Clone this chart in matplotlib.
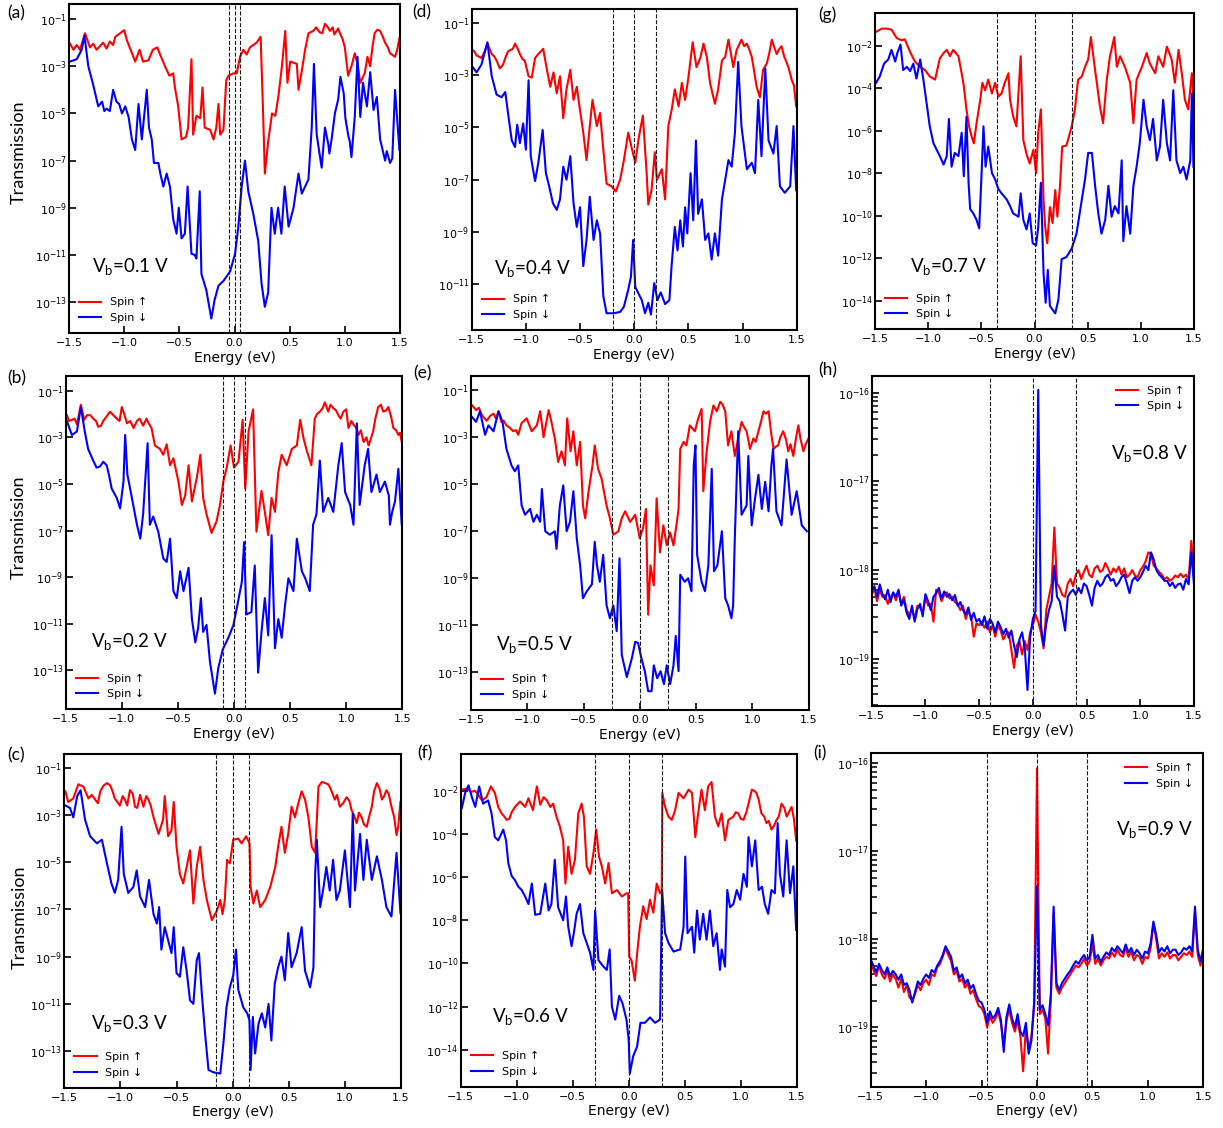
import numpy as np
import matplotlib
matplotlib.use("Agg")
import matplotlib.pyplot as plt
from matplotlib.ticker import NullLocator, NullFormatter, LogLocator

# ---------------------------------------------------------------------------
# Spin-resolved transmission spectra, T(E), for nine bias voltages.
# Each series is a list of (energy in eV, log10 T) pairs.
# ---------------------------------------------------------------------------
bias_voltages = [0.1, 0.2, 0.3, 0.4, 0.5, 0.6, 0.7, 0.8, 0.9]
panel_keys = ["a", "b", "c", "d", "e", "f", "g", "h", "i"]

a_up = [(-1.49,-2.05),(-1.46,-2.3),(-1.43,-2.1),(-1.40,-2.3),(-1.355,-1.6),(-1.31,-2.2),(-1.28,-2.05),(-1.25,-2.3),
        (-1.22,-2.15),(-1.19,-2.0),(-1.16,-2.25),(-1.13,-1.95),(-1.10,-2.1),(-1.08,-1.75),(-1.00,-1.47),(-0.975,-1.9),
        (-0.95,-2.2),(-0.925,-2.5),(-0.90,-2.8),(-0.86,-2.3),(-0.83,-2.8),(-0.78,-2.75),(-0.74,-2.3),(-0.70,-2.2),
        (-0.67,-2.55),(-0.63,-3.0),(-0.59,-3.4),(-0.555,-3.3),(-0.54,-3.9),(-0.51,-4.7),(-0.48,-6.1),(-0.44,-6.0),
        (-0.42,-5.6),(-0.39,-2.7),(-0.375,-5.9),(-0.345,-5.1),(-0.31,-5.2),(-0.29,-3.9),(-0.27,-5.6),(-0.22,-5.7),
        (-0.19,-6.1),(-0.165,-5.6),(-0.145,-4.6),(-0.13,-5.9),(-0.10,-5.7),(-0.075,-3.6),(-0.055,-3.4),(-0.01,-3.3),
        (0.02,-3.3),(0.05,-2.6),(0.08,-2.3),(0.11,-2.5),(0.14,-2.2),(0.17,-2.1),(0.20,-2.0),(0.237,-1.75),(0.26,-5.1),
        (0.275,-7.55),(0.305,-6.2),(0.34,-5.0),(0.37,-5.1),(0.40,-4.2),(0.43,-3.0),(0.46,-1.5),(0.48,-3.7),
        (0.505,-2.8),(0.565,-2.9),(0.58,-4.0),(0.61,-3.2),(0.64,-2.3),(0.67,-1.6),(0.715,-1.5),(0.74,-1.35),
        (0.77,-1.55),(0.795,-1.6),(0.82,-1.2),(0.84,-1.3),(0.865,-1.5),(0.89,-1.35),(0.905,-1.65),(0.925,-1.5),
        (0.94,-1.4),(0.955,-1.6),(0.98,-1.85),(1.00,-2.2),(1.03,-3.4),(1.06,-3.0),(1.09,-2.45),(1.115,-2.9),
        (1.14,-3.7),(1.18,-3.3),(1.205,-2.6),(1.23,-3.0),(1.25,-2.2),(1.27,-1.6),(1.295,-1.45),(1.32,-1.5),
        (1.34,-1.7),(1.365,-2.0),(1.39,-2.2),(1.41,-2.45),(1.455,-2.6),(1.475,-2.3),(1.495,-1.8)]
a_dn = [(-1.49,-2.8),(-1.43,-2.7),(-1.385,-2.3),(-1.36,-1.7),(-1.325,-3.0),(-1.28,-3.8),(-1.235,-4.7),(-1.20,-4.5),
        (-1.18,-4.9),(-1.16,-4.8),(-1.13,-4.9),(-1.10,-4.0),(-1.07,-4.5),(-1.045,-4.6),(-1.02,-5.0),(-0.99,-4.7),
        (-0.96,-5.15),(-0.93,-6.1),(-0.90,-6.55),(-0.87,-4.6),(-0.84,-6.1),(-0.795,-4.0),(-0.775,-5.6),(-0.75,-6.1),
        (-0.73,-7.1),(-0.69,-7.1),(-0.67,-7.6),(-0.645,-8.1),(-0.615,-7.55),(-0.585,-8.1),(-0.555,-9.5),
        (-0.525,-10.1),(-0.505,-9.0),(-0.48,-10.3),(-0.45,-10.1),(-0.425,-8.1),(-0.39,-10.95),(-0.36,-11.0),
        (-0.345,-11.15),(-0.315,-8.3),(-0.30,-11.8),(-0.255,-12.5),(-0.21,-13.7),(-0.18,-12.9),(-0.145,-12.3),
        (-0.10,-12.1),(-0.04,-11.7),(0.005,-10.95),(0.035,-9.8),(0.065,-8.1),(0.095,-7.0),(0.125,-8.3),(0.17,-9.25),
        (0.215,-10.4),(0.245,-12.2),(0.275,-13.2),(0.305,-12.6),(0.335,-9.0),(0.365,-10.1),(0.395,-9.0),
        (0.425,-10.1),(0.455,-8.1),(0.49,-9.8),(0.535,-9.0),(0.58,-7.55),(0.61,-8.4),(0.64,-8.1),(0.67,-7.8),
        (0.70,-5.6),(0.72,-2.9),(0.745,-5.9),(0.79,-7.3),(0.82,-5.6),(0.85,-6.3),(0.86,-6.7),(0.88,-6.1),(0.91,-5.0),
        (0.94,-4.4),(0.96,-3.45),(0.99,-4.15),(1.005,-5.2),(1.03,-5.9),(1.045,-6.2),(1.06,-6.85),(1.09,-5.15),
        (1.115,-2.6),(1.14,-5.15),(1.165,-3.7),(1.20,-4.7),(1.23,-3.25),(1.26,-4.85),(1.29,-4.3),(1.32,-6.1),
        (1.365,-7.0),(1.38,-6.6),(1.41,-7.1),(1.43,-6.9),(1.455,-4.0),(1.495,-6.55)]

b_up = [(-1.49,-2.05),(-1.47,-2.3),(-1.445,-2.25),(-1.42,-2.2),(-1.40,-2.45),(-1.365,-1.6),(-1.335,-2.25),
        (-1.31,-2.05),(-1.28,-2.05),(-1.255,-2.2),(-1.23,-2.3),(-1.21,-2.55),(-1.185,-2.5),(-1.165,-2.3),
        (-1.135,-2.1),(-1.105,-1.9),(-1.075,-2.05),(-1.045,-2.2),(-1.02,-2.3),(-1.00,-1.7),(-0.975,-2.05),
        (-0.955,-2.4),(-0.925,-2.3),(-0.895,-2.6),(-0.865,-2.3),(-0.84,-2.2),(-0.81,-2.5),(-0.78,-2.2),(-0.76,-2.4),
        (-0.735,-2.6),(-0.705,-3.35),(-0.66,-3.5),(-0.63,-3.75),(-0.60,-3.3),(-0.57,-4.2),(-0.54,-3.9),(-0.495,-4.9),
        (-0.465,-5.9),(-0.435,-5.5),(-0.405,-4.2),(-0.375,-5.75),(-0.33,-4.7),(-0.30,-3.75),(-0.275,-5.6),
        (-0.245,-6.3),(-0.20,-7.1),(-0.155,-6.6),(-0.125,-5.9),(-0.095,-4.9),(-0.065,-4.3),(-0.03,-3.35),(0.0,-4.3),
        (0.04,-4.05),(0.077,-2.25),(0.10,-5.2),(0.13,-2.75),(0.17,-1.8),(0.20,-7.05),(0.245,-5.3),(0.275,-6.2),
        (0.305,-7.2),(0.335,-5.6),(0.365,-6.2),(0.395,-4.5),(0.425,-3.75),(0.47,-4.2),(0.515,-3.5),(0.56,-3.35),
        (0.59,-2.25),(0.62,-3.05),(0.65,-3.6),(0.69,-4.2),(0.72,-2.2),(0.74,-2.0),(0.765,-1.9),(0.79,-1.75),
        (0.81,-1.5),(0.84,-1.9),(0.86,-1.6),(0.885,-1.75),(0.91,-1.85),(0.93,-2.05),(0.95,-2.2),(0.975,-1.9),
        (1.00,-1.8),(1.02,-2.6),(1.045,-2.3),(1.065,-2.45),(1.09,-2.6),(1.11,-2.9),(1.13,-2.7),(1.155,-3.2),
        (1.18,-3.0),(1.20,-3.35),(1.24,-2.75),(1.26,-2.2),(1.285,-1.7),(1.31,-1.6),(1.33,-1.9),(1.355,-1.85),
        (1.375,-1.7),(1.40,-2.1),(1.42,-2.6),(1.445,-2.7),(1.465,-2.9),(1.48,-2.8),(1.495,-3.2)]
b_dn = [(-1.49,-2.3),(-1.445,-2.9),(-1.40,-2.75),(-1.365,-1.7),(-1.33,-2.75),(-1.30,-3.5),(-1.255,-4.0),
        (-1.225,-4.3),(-1.195,-4.25),(-1.165,-4.05),(-1.135,-4.2),(-1.115,-4.6),(-1.09,-5.2),(-1.045,-5.6),
        (-1.015,-6.05),(-0.985,-4.9),(-0.97,-2.9),(-0.95,-4.6),(-0.91,-5.6),(-0.865,-6.75),(-0.835,-7.35),
        (-0.81,-6.3),(-0.77,-3.25),(-0.75,-6.75),(-0.72,-6.4),(-0.675,-7.05),(-0.63,-8.2),(-0.60,-8.35),(-0.57,-7.35),
        (-0.54,-9.6),(-0.51,-9.9),(-0.48,-8.75),(-0.45,-9.6),(-0.405,-8.6),(-0.375,-10.8),(-0.345,-11.8),
        (-0.32,-11.2),(-0.295,-9.9),(-0.275,-11.35),(-0.245,-11.05),(-0.215,-12.6),(-0.17,-14.0),(-0.14,-12.9),
        (-0.10,-12.1),(-0.05,-11.6),(-0.005,-11.05),(0.03,-10.2),(0.07,-9.2),(0.09,-7.5),(0.11,-10.6),(0.155,-10.5),
        (0.185,-8.5),(0.215,-13.1),(0.245,-11.35),(0.275,-9.9),(0.305,-11.5),(0.335,-7.2),(0.365,-12.05),
        (0.395,-10.8),(0.425,-11.6),(0.455,-10.2),(0.485,-9.05),(0.53,-9.6),(0.56,-7.35),(0.605,-8.75),(0.635,-9.05),
        (0.675,-9.6),(0.705,-6.75),(0.735,-6.3),(0.765,-4.0),(0.795,-6.2),(0.84,-5.6),(0.885,-6.2),(0.93,-4.2),
        (0.96,-3.25),(0.99,-5.35),(1.035,-5.9),(1.065,-6.75),(1.095,-2.4),(1.12,-5.9),(1.165,-4.2),(1.195,-3.5),
        (1.225,-5.35),(1.27,-4.6),(1.30,-5.35),(1.345,-4.9),(1.38,-5.5),(1.39,-6.75),(1.41,-6.2),(1.435,-5.75),
        (1.465,-4.35),(1.495,-6.75)]

c_up = [(-1.49,-2.0),(-1.465,-2.45),(-1.42,-2.3),(-1.375,-1.7),(-1.33,-1.8),(-1.285,-2.3),(-1.255,-2.15),
        (-1.225,-2.35),(-1.20,-2.5),(-1.18,-2.0),(-1.15,-1.75),(-1.12,-1.65),(-1.09,-1.75),(-1.07,-2.0),(-1.05,-2.3),
        (-1.005,-2.6),(-0.98,-2.2),(-0.96,-2.35),(-0.94,-2.6),(-0.915,-1.95),(-0.89,-2.1),(-0.87,-2.65),(-0.85,-2.7),
        (-0.825,-2.15),(-0.795,-2.65),(-0.77,-2.2),(-0.75,-2.35),(-0.73,-2.6),(-0.705,-3.1),(-0.66,-3.8),(-0.62,-3.2),
        (-0.605,-2.2),(-0.575,-3.9),(-0.545,-3.65),(-0.525,-2.45),(-0.50,-4.35),(-0.47,-5.5),(-0.44,-5.9),
        (-0.41,-5.2),(-0.38,-4.5),(-0.35,-6.75),(-0.32,-5.2),(-0.29,-4.35),(-0.26,-5.75),(-0.23,-6.6),(-0.185,-7.45),
        (-0.14,-7.05),(-0.11,-6.6),(-0.09,-7.2),(-0.07,-6.6),(-0.05,-4.9),(-0.025,-5.05),(0.005,-4.05),(0.05,-4.0),
        (0.08,-4.2),(0.12,-3.9),(0.15,-4.2),(0.16,-6.05),(0.185,-6.75),(0.215,-6.2),(0.245,-6.9),(0.29,-6.6),
        (0.335,-6.05),(0.38,-5.2),(0.405,-4.35),(0.435,-3.5),(0.465,-4.6),(0.495,-3.8),(0.525,-2.65),(0.555,-3.1),
        (0.585,-2.5),(0.615,-2.0),(0.645,-2.35),(0.675,-3.1),(0.705,-4.35),(0.735,-4.6),(0.765,-1.8),(0.795,-1.6),
        (0.825,-1.65),(0.85,-1.7),(0.87,-1.85),(0.89,-2.1),(0.91,-2.35),(0.93,-2.15),(0.955,-2.65),(0.985,-2.5),
        (1.015,-2.25),(1.04,-2.4),(1.06,-2.8),(1.08,-3.0),(1.105,-3.35),(1.125,-2.9),(1.15,-3.1),(1.17,-3.4),
        (1.195,-3.5),(1.22,-3.0),(1.24,-2.65),(1.26,-2.0),(1.285,-1.65),(1.31,-1.9),(1.33,-2.35),(1.35,-2.2),
        (1.37,-1.95),(1.39,-2.1),(1.415,-2.65),(1.44,-3.1),(1.46,-3.85),(1.475,-3.5),(1.495,-2.45)]
c_dn = [(-1.49,-2.6),(-1.45,-2.7),(-1.42,-3.1),(-1.385,-2.2),(-1.355,-1.95),(-1.315,-3.2),(-1.27,-3.9),(-1.21,-4.2),
        (-1.165,-4.05),(-1.12,-5.05),(-1.08,-5.9),(-1.05,-6.3),(-1.02,-5.75),(-0.99,-3.5),(-0.97,-5.5),(-0.93,-6.3),
        (-0.885,-6.05),(-0.855,-5.35),(-0.825,-6.45),(-0.78,-6.9),(-0.745,-5.75),(-0.705,-7.2),(-0.675,-7.6),
        (-0.655,-6.9),(-0.635,-8.7),(-0.605,-7.75),(-0.575,-8.3),(-0.545,-8.85),(-0.525,-7.75),(-0.50,-9.7),
        (-0.47,-9.85),(-0.44,-8.6),(-0.41,-9.6),(-0.38,-10.85),(-0.35,-11.0),(-0.32,-9.15),(-0.30,-8.85),
        (-0.275,-10.55),(-0.245,-12.3),(-0.215,-13.8),(-0.17,-13.9),(-0.11,-13.95),(-0.08,-12.55),(-0.055,-11.15),
        (-0.025,-10.3),(0.005,-9.8),(0.03,-8.7),(0.05,-10.4),(0.095,-11.15),(0.13,-11.4),(0.15,-11.7),(0.16,-13.8),
        (0.18,-11.55),(0.20,-13.1),(0.23,-11.85),(0.26,-11.4),(0.29,-12.0),(0.32,-11.0),(0.345,-12.55),
        (0.375,-10.15),(0.405,-9.45),(0.435,-9.0),(0.465,-10.0),(0.495,-8.0),(0.525,-9.45),(0.57,-8.85),
        (0.615,-7.75),(0.645,-9.6),(0.69,-10.3),(0.72,-9.45),(0.735,-5.5),(0.75,-4.05),(0.78,-6.9),(0.81,-6.05),
        (0.835,-5.2),(0.865,-6.2),(0.895,-4.9),(0.925,-6.6),(0.955,-6.2),(1.00,-4.5),(1.045,-6.9),(1.07,-2.95),
        (1.09,-6.2),(1.135,-3.8),(1.165,-5.75),(1.195,-4.05),(1.24,-5.75),(1.285,-4.75),(1.33,-5.75),(1.37,-6.9),
        (1.415,-7.3),(1.46,-4.6),(1.495,-7.15)]

d_up = [(-1.49,-2.05),(-1.475,-2.1),(-1.455,-2.25),(-1.41,-2.35),(-1.38,-2.1),(-1.355,-1.8),(-1.315,-2.2),
        (-1.29,-2.3),(-1.27,-2.45),(-1.24,-2.75),(-1.21,-2.6),(-1.19,-2.35),(-1.165,-2.1),(-1.145,-2.05),
        (-1.12,-2.0),(-1.10,-1.8),(-1.075,-2.0),(-1.055,-2.2),(-1.03,-2.4),(-1.01,-2.45),(-0.975,-3.05),
        (-0.945,-3.1),(-0.915,-2.35),(-0.885,-2.2),(-0.84,-2.0),(-0.81,-2.7),(-0.775,-3.45),(-0.745,-2.9),
        (-0.715,-3.7),(-0.685,-3.05),(-0.655,-4.65),(-0.625,-3.55),(-0.59,-2.8),(-0.56,-3.95),(-0.53,-3.45),
        (-0.50,-4.35),(-0.47,-5.2),(-0.44,-6.25),(-0.41,-4.95),(-0.385,-3.95),(-0.345,-4.95),(-0.315,-4.45),
        (-0.285,-5.85),(-0.255,-7.15),(-0.21,-7.25),(-0.17,-7.45),(-0.13,-7.0),(-0.095,-6.25),(-0.055,-5.2),
        (-0.025,-5.75),(0.01,-6.35),(0.04,-5.45),(0.08,-4.55),(0.115,-6.75),(0.13,-7.95),(0.16,-7.4),(0.19,-5.95),
        (0.21,-7.0),(0.255,-6.6),(0.285,-7.75),(0.315,-4.95),(0.345,-4.35),(0.375,-3.55),(0.41,-4.2),(0.44,-3.3),
        (0.47,-3.95),(0.50,-3.1),(0.54,-1.75),(0.575,-2.7),(0.61,-2.35),(0.64,-1.8),(0.67,-2.3),(0.70,-3.3),
        (0.745,-4.1),(0.775,-3.55),(0.81,-2.45),(0.84,-2.3),(0.87,-1.65),(0.915,-2.7),(0.945,-2.05),(0.99,-1.65),
        (1.015,-1.9),(1.04,-1.8),(1.06,-2.0),(1.085,-2.3),(1.105,-2.8),(1.13,-3.45),(1.16,-3.85),(1.19,-2.8),
        (1.225,-2.55),(1.25,-2.1),(1.27,-1.65),(1.29,-1.9),(1.315,-2.2),(1.34,-2.0),(1.36,-1.9),(1.385,-2.3),
        (1.41,-2.55),(1.43,-2.8),(1.455,-3.2),(1.475,-3.4),(1.495,-4.2)]
d_dn = [(-1.49,-2.7),(-1.455,-2.9),(-1.41,-2.6),(-1.355,-1.75),(-1.315,-3.05),(-1.27,-3.75),(-1.225,-3.85),
        (-1.19,-3.65),(-1.16,-4.6),(-1.13,-5.5),(-1.10,-5.75),(-1.08,-4.9),(-1.055,-5.6),(-1.025,-4.85),
        (-1.00,-5.85),(-0.975,-3.2),(-0.955,-6.1),(-0.915,-7.05),(-0.885,-6.35),(-0.845,-5.1),(-0.815,-6.75),
        (-0.785,-7.25),(-0.75,-7.9),(-0.715,-8.15),(-0.685,-7.75),(-0.655,-6.5),(-0.625,-7.0),(-0.59,-6.1),
        (-0.56,-7.9),(-0.53,-8.8),(-0.50,-8.05),(-0.47,-10.3),(-0.44,-9.3),(-0.41,-7.65),(-0.375,-9.3),
        (-0.345,-8.55),(-0.315,-9.05),(-0.285,-11.45),(-0.255,-12.1),(-0.19,-12.1),(-0.13,-12.05),(-0.095,-11.85),
        (-0.055,-11.2),(-0.03,-10.7),(-0.01,-9.3),(0.01,-11.1),(0.04,-11.35),(0.07,-11.6),(0.10,-12.1),
        (0.13,-11.7),(0.155,-12.15),(0.185,-10.95),(0.215,-11.6),(0.245,-11.3),(0.285,-11.75),(0.325,-11.6),
        (0.345,-10.3),(0.375,-8.8),(0.40,-9.7),(0.425,-8.55),(0.45,-9.55),(0.47,-8.05),(0.49,-9.05),(0.52,-6.75),
        (0.545,-8.55),(0.57,-5.5),(0.59,-8.3),(0.625,-7.75),(0.655,-9.3),(0.685,-9.05),(0.715,-10.05),
        (0.745,-9.05),(0.775,-9.9),(0.81,-7.75),(0.84,-7.0),(0.87,-6.25),(0.90,-6.5),(0.93,-5.2),(0.96,-2.5),
        (0.99,-4.95),(1.04,-6.6),(1.085,-6.35),(1.115,-6.75),(1.145,-3.95),(1.175,-6.1),(1.21,-2.75),(1.24,-5.5),
        (1.285,-6.0),(1.315,-4.95),(1.345,-7.25),(1.39,-7.5),(1.44,-7.25),(1.47,-4.95),(1.495,-7.4)]

e_up = [(-1.49,-1.65),(-1.455,-1.85),(-1.43,-1.75),(-1.405,-2.05),(-1.38,-2.2),(-1.36,-2.3),(-1.33,-2.1),
        (-1.30,-2.0),(-1.28,-2.2),(-1.255,-1.9),(-1.23,-2.35),(-1.21,-2.3),(-1.185,-2.5),(-1.155,-2.6),
        (-1.125,-2.75),(-1.10,-2.7),(-1.08,-2.9),(-1.05,-2.4),(-1.005,-2.2),(-0.96,-2.75),(-0.915,-2.5),
        (-0.885,-1.9),(-0.855,-3.0),(-0.81,-1.85),(-0.785,-2.35),(-0.755,-3.05),(-0.725,-4.05),(-0.695,-3.6),
        (-0.665,-4.2),(-0.645,-2.2),(-0.615,-3.6),(-0.59,-2.75),(-0.56,-4.2),(-0.53,-3.2),(-0.505,-5.9),
        (-0.485,-6.45),(-0.455,-5.3),(-0.42,-4.2),(-0.40,-3.35),(-0.37,-4.35),(-0.34,-4.75),(-0.295,-5.9),
        (-0.265,-6.45),(-0.235,-7.15),(-0.19,-7.0),(-0.16,-6.45),(-0.13,-6.15),(-0.085,-6.6),(-0.04,-6.3),
        (0.0,-7.3),(0.03,-6.85),(0.055,-6.05),(0.075,-10.55),(0.095,-8.45),(0.125,-9.3),(0.15,-5.6),(0.18,-7.9),
        (0.21,-6.75),(0.24,-7.6),(0.27,-7.05),(0.30,-7.6),(0.33,-6.6),(0.345,-6.05),(0.36,-3.5),(0.39,-3.2),
        (0.415,-3.35),(0.445,-2.5),(0.49,-2.75),(0.52,-2.2),(0.55,-1.8),(0.565,-5.3),(0.595,-3.6),(0.625,-2.35),
        (0.655,-1.65),(0.685,-1.9),(0.715,-1.5),(0.735,-1.6),(0.76,-1.9),(0.785,-3.35),(0.815,-2.75),(0.845,-3.8),
        (0.875,-3.05),(0.905,-2.35),(0.93,-2.6),(0.95,-2.75),(0.98,-3.5),(1.01,-3.05),(1.03,-3.2),(1.055,-2.75),
        (1.08,-2.3),(1.10,-1.9),(1.12,-2.0),(1.145,-1.9),(1.17,-2.9),(1.19,-3.5),(1.21,-3.4),(1.23,-3.35),
        (1.25,-3.0),(1.275,-2.75),(1.30,-3.1),(1.32,-3.6),(1.34,-3.3),(1.365,-3.8),(1.39,-3.0),(1.41,-2.5),
        (1.43,-3.1),(1.455,-3.6),(1.475,-3.3),(1.50,-3.05)]
e_dn = [(-1.49,-2.15),(-1.455,-2.35),(-1.42,-1.9),(-1.375,-2.9),(-1.345,-2.5),(-1.30,-2.75),(-1.255,-1.9),
        (-1.22,-2.35),(-1.185,-3.5),(-1.14,-4.2),(-1.11,-4.45),(-1.08,-4.2),(-1.05,-5.9),(-1.02,-6.3),
        (-0.975,-6.05),(-0.945,-6.6),(-0.915,-6.3),(-0.885,-6.6),(-0.87,-5.2),(-0.84,-7.0),(-0.80,-7.15),
        (-0.755,-7.0),(-0.74,-7.75),(-0.71,-5.9),(-0.68,-5.05),(-0.65,-7.0),(-0.62,-6.6),(-0.59,-5.3),(-0.56,-7.3),
        (-0.53,-8.45),(-0.505,-9.85),(-0.47,-9.55),(-0.425,-9.25),(-0.40,-7.45),(-0.38,-8.45),(-0.355,-9.15),
        (-0.325,-8.0),(-0.295,-10.15),(-0.265,-10.7),(-0.235,-10.15),(-0.205,-11.25),(-0.18,-8.15),(-0.16,-12.25),
        (-0.115,-13.2),(-0.07,-12.4),(-0.04,-11.7),(-0.015,-11.75),(0.015,-12.4),(0.045,-12.95),(0.075,-13.8),
        (0.105,-13.8),(0.125,-12.7),(0.155,-13.25),(0.185,-12.95),(0.215,-13.5),(0.24,-12.7),(0.27,-13.5),
        (0.30,-12.7),(0.32,-11.45),(0.345,-12.95),(0.36,-8.85),(0.40,-9.15),(0.43,-9.0),(0.46,-9.55),(0.48,-4.2),
        (0.495,-3.35),(0.51,-8.0),(0.55,-9.15),(0.58,-9.55),(0.61,-8.45),(0.64,-4.35),(0.66,-8.7),(0.69,-8.45),
        (0.73,-7.0),(0.76,-9.85),(0.785,-10.15),(0.815,-10.7),(0.83,-10.15),(0.845,-7.3),(0.875,-2.75),(0.905,-6.3),
        (0.95,-5.9),(0.965,-3.8),(0.995,-6.75),(1.025,-5.6),(1.055,-4.6),(1.085,-6.05),(1.115,-4.9),(1.145,-6.15),
        (1.17,-4.2),(1.185,-3.5),(1.215,-6.15),(1.26,-6.75),(1.305,-3.95),(1.35,-6.3),(1.395,-5.3),(1.44,-6.75),
        (1.485,-7.0)]

f_up = [(-1.49,-1.95),(-1.445,-1.9),(-1.42,-2.0),(-1.40,-2.05),(-1.375,-2.0),(-1.355,-2.1),(-1.33,-2.3),
        (-1.31,-2.45),(-1.27,-2.3),(-1.23,-1.8),(-1.195,-2.1),(-1.165,-2.75),(-1.135,-3.05),(-1.11,-3.2),
        (-1.09,-3.35),(-1.065,-3.3),(-1.045,-3.0),(-1.015,-2.75),(-0.97,-2.5),(-0.925,-2.75),(-0.895,-2.35),
        (-0.855,-2.9),(-0.82,-1.8),(-0.79,-2.65),(-0.76,-2.3),(-0.73,-2.45),(-0.70,-2.75),(-0.675,-2.6),
        (-0.645,-3.2),(-0.615,-3.65),(-0.585,-4.3),(-0.565,-6.3),(-0.54,-4.6),(-0.51,-5.85),(-0.48,-5.2),
        (-0.45,-3.05),(-0.42,-2.6),(-0.40,-3.2),(-0.375,-5.5),(-0.345,-5.85),(-0.315,-4.9),(-0.29,-3.8),
        (-0.265,-5.05),(-0.24,-5.5),(-0.21,-6.3),(-0.18,-5.35),(-0.15,-6.75),(-0.105,-6.6),(-0.06,-6.9),
        (-0.02,-6.75),(-0.005,-6.75),(0.005,-9.7),(0.025,-9.85),(0.055,-10.8),(0.075,-9.55),(0.10,-8.3),
        (0.13,-7.35),(0.16,-7.95),(0.19,-7.05),(0.22,-7.65),(0.25,-6.3),(0.28,-6.75),(0.295,-6.75),(0.30,-2.1),
        (0.325,-2.75),(0.355,-3.2),(0.385,-3.35),(0.415,-2.9),(0.445,-2.1),(0.49,-2.35),(0.535,-1.95),(0.565,-2.1),
        (0.595,-4.15),(0.62,-3.05),(0.65,-1.95),(0.68,-2.9),(0.71,-1.8),(0.74,-1.6),(0.77,-3.2),(0.80,-3.65),
        (0.83,-3.05),(0.86,-4.3),(0.89,-3.35),(0.935,-3.2),(0.955,-3.0),(0.98,-3.05),(1.00,-3.3),(1.025,-3.35),
        (1.05,-3.0),(1.07,-2.6),(1.10,-1.95),(1.12,-2.0),(1.14,-2.1),(1.16,-2.4),(1.185,-3.05),(1.21,-3.2),
        (1.23,-3.5),(1.25,-3.4),(1.275,-3.8),(1.30,-3.6),(1.32,-3.35),(1.34,-3.2),(1.365,-2.6),(1.39,-2.8),
        (1.41,-3.2),(1.43,-3.0),(1.455,-2.75),(1.475,-3.3),(1.495,-4.3)]
f_dn = [(-1.49,-2.8),(-1.46,-2.1),(-1.43,-1.75),(-1.40,-2.3),(-1.37,-2.75),(-1.335,-1.8),(-1.30,-2.6),
        (-1.255,-2.45),(-1.225,-3.05),(-1.195,-4.15),(-1.165,-4.3),(-1.12,-3.8),(-1.095,-4.3),(-1.075,-5.35),
        (-1.045,-5.95),(-1.015,-6.15),(-0.985,-6.45),(-0.955,-6.6),(-0.925,-6.9),(-0.895,-7.25),(-0.865,-6.3),
        (-0.835,-7.75),(-0.79,-7.7),(-0.745,-6.3),(-0.715,-7.55),(-0.69,-7.25),(-0.66,-5.2),(-0.63,-7.4),
        (-0.585,-8.0),(-0.56,-6.9),(-0.54,-8.3),(-0.51,-9.2),(-0.49,-8.6),(-0.465,-7.7),(-0.435,-7.25),
        (-0.405,-8.6),(-0.375,-9.05),(-0.345,-9.5),(-0.315,-10.3),(-0.30,-7.55),(-0.27,-9.85),(-0.225,-10.15),
        (-0.195,-10.3),(-0.17,-9.35),(-0.15,-12.0),(-0.12,-12.6),(-0.085,-11.5),(-0.055,-11.85),(-0.02,-12.6),
        (0.0,-13.55),(0.01,-15.1),(0.04,-14.3),(0.075,-13.85),(0.105,-12.75),(0.145,-12.75),(0.19,-12.5),
        (0.235,-12.75),(0.28,-12.6),(0.298,-6.6),(0.325,-8.6),(0.355,-9.05),(0.40,-9.45),(0.46,-9.35),(0.49,-8.3),
        (0.505,-5.05),(0.525,-8.6),(0.565,-8.3),(0.585,-9.5),(0.61,-7.55),(0.635,-8.9),(0.665,-7.7),(0.695,-8.9),
        (0.725,-7.55),(0.755,-9.2),(0.785,-8.6),(0.815,-10.3),(0.83,-9.35),(0.86,-10.15),(0.88,-6.6),(0.905,-7.4),
        (0.935,-7.25),(0.965,-6.6),(0.995,-7.05),(1.025,-5.85),(1.055,-6.45),(1.07,-4.15),(1.10,-5.5),(1.13,-4.3),
        (1.16,-6.6),(1.19,-6.45),(1.215,-7.25),(1.245,-7.7),(1.275,-6.6),(1.305,-6.75),(1.33,-3.5),(1.35,-5.85),
        (1.38,-6.9),(1.41,-4.3),(1.44,-6.75),(1.47,-5.5),(1.495,-8.45)]

g_up = [(-1.49,-1.35),(-1.435,-1.2),(-1.39,-1.2),(-1.345,-1.25),(-1.295,-1.65),(-1.25,-1.75),(-1.22,-1.7),
        (-1.17,-2.3),(-1.125,-2.75),(-1.075,-3.0),(-1.03,-3.15),(-0.985,-3.45),(-0.935,-3.6),(-0.89,-2.6),
        (-0.855,-2.35),(-0.825,-2.2),(-0.795,-2.5),(-0.765,-2.2),(-0.715,-2.5),(-0.685,-3.3),(-0.665,-3.9),
        (-0.64,-5.0),(-0.615,-5.8),(-0.59,-6.3),(-0.57,-6.6),(-0.545,-5.65),(-0.51,-4.55),(-0.49,-3.75),
        (-0.465,-4.1),(-0.435,-3.6),(-0.40,-4.25),(-0.37,-3.75),(-0.34,-4.4),(-0.31,-4.25),(-0.28,-3.75),
        (-0.245,-3.3),(-0.23,-4.55),(-0.20,-5.35),(-0.17,-5.8),(-0.13,-2.5),(-0.105,-6.45),(-0.075,-7.1),
        (-0.045,-7.55),(-0.01,-6.9),(0.015,-8.0),(0.035,-6.1),(0.06,-5.0),(0.085,-9.25),(0.10,-10.5),(0.12,-11.3),
        (0.145,-9.6),(0.17,-10.35),(0.195,-8.8),(0.215,-10.05),(0.24,-8.6),(0.26,-6.75),(0.30,-6.7),(0.35,-5.8),
        (0.38,-5.0),(0.41,-3.6),(0.445,-3.45),(0.475,-3.0),(0.505,-2.65),(0.53,-1.6),(0.57,-3.15),(0.615,-4.85),
        (0.645,-5.65),(0.68,-3.6),(0.71,-2.5),(0.75,-1.6),(0.775,-3.0),(0.805,-2.5),(0.85,-3.0),(0.90,-3.75),
        (0.93,-5.65),(0.96,-3.6),(1.01,-3.0),(1.055,-2.35),(1.085,-2.85),(1.135,-3.3),(1.165,-2.5),(1.21,-3.0),
        (1.245,-2.05),(1.29,-2.65),(1.32,-3.75),(1.355,-2.2),(1.385,-3.3),(1.415,-4.55),(1.445,-5.0),(1.48,-3.3),
        (1.495,-4.55)]
g_dn = [(-1.49,-3.75),(-1.455,-3.45),(-1.415,-2.85),(-1.375,-2.65),(-1.345,-2.2),(-1.31,-2.75),(-1.29,-2.35),
        (-1.26,-1.95),(-1.235,-3.15),(-1.20,-3.0),(-1.17,-3.2),(-1.14,-2.85),(-1.11,-3.55),(-1.075,-2.65),
        (-1.045,-3.6),(-1.015,-4.7),(-0.985,-5.8),(-0.95,-6.6),(-0.92,-6.9),(-0.89,-7.2),(-0.855,-7.6),
        (-0.825,-7.2),(-0.805,-5.45),(-0.78,-7.7),(-0.75,-7.05),(-0.715,-7.2),(-0.685,-6.1),(-0.665,-8.15),
        (-0.64,-5.35),(-0.62,-8.45),(-0.605,-9.7),(-0.575,-9.9),(-0.545,-10.2),(-0.52,-10.6),(-0.495,-7.7),
        (-0.48,-5.8),(-0.46,-7.7),(-0.435,-6.75),(-0.40,-8.0),(-0.37,-8.3),(-0.34,-8.75),(-0.31,-8.95),(-0.26,-9.25),
        (-0.23,-9.55),(-0.20,-9.9),(-0.15,-10.05),(-0.13,-8.95),(-0.105,-10.2),(-0.075,-10.65),(-0.045,-9.9),
        (-0.017,-11.3),(0.015,-11.4),(0.035,-10.55),(0.06,-8.45),(0.085,-12.7),(0.105,-14.1),(0.125,-12.55),
        (0.145,-14.25),(0.195,-14.6),(0.225,-13.95),(0.255,-12.05),(0.30,-11.95),(0.35,-11.55),(0.395,-10.85),
        (0.445,-9.25),(0.475,-8.3),(0.505,-7.05),(0.54,-7.05),(0.57,-8.6),(0.60,-9.9),(0.63,-10.85),(0.665,-10.2),
        (0.695,-8.6),(0.725,-10.05),(0.755,-9.55),(0.79,-9.9),(0.82,-7.4),(0.835,-11.2),(0.865,-9.55),(0.90,-10.85),
        (0.93,-8.6),(0.96,-7.7),(0.99,-6.6),(1.025,-4.55),(1.055,-5.8),(1.085,-6.45),(1.115,-5.45),(1.15,-7.4),
        (1.18,-6.75),(1.21,-4.55),(1.245,-6.6),(1.275,-7.4),(1.305,-4.1),(1.335,-7.4),(1.37,-8.0),(1.40,-7.7),
        (1.43,-8.3),(1.465,-7.4),(1.48,-4.25),(1.495,-7.7)]

# Panels (h) and (i) are sampled on a uniform 0.025 eV grid from -1.5 to 1.5 eV.
hi_energy = np.linspace(-1.5, 1.5, 121)

h_up = [-18.28, -18.20, -18.35, -18.22, -18.30, -18.28, -18.38, -18.30, -18.26, -18.34,
        -18.25, -18.38, -18.30, -18.45, -18.50, -18.44, -18.55, -18.40, -18.42, -18.48,
        -18.30, -18.40, -18.38, -18.58, -18.22, -18.25, -18.35, -18.28, -18.25, -18.32,
        -18.30, -18.36, -18.38, -18.45, -18.40, -18.55, -18.46, -18.52, -18.75, -18.60,
        -18.62, -18.58, -18.65, -18.58, -18.70, -18.62, -18.75, -18.62, -18.68, -18.78,
        -18.72, -18.70, -18.90, -19.10, -18.85, -18.80, -18.95, -18.80, -18.90, -18.70,
        -18.62, -18.50, -18.58, -18.70, -18.88, -18.45, -18.30, -18.15, -17.52, -18.15,
        -18.20, -18.28, -18.30, -18.15, -18.10, -18.18, -18.05, -18.00, -18.10, -18.02,
        -17.95, -18.05, -18.08, -17.98, -17.95, -18.02, -18.00, -17.92, -17.98, -18.05,
        -17.98, -18.02, -17.96, -18.05, -17.98, -18.08, -18.05, -18.00, -18.06, -18.08,
        -18.00, -17.96, -17.90, -17.80, -17.82, -17.95, -17.98, -18.02, -18.05, -18.10,
        -18.08, -18.12, -18.10, -18.06, -18.08, -18.04, -18.08, -18.05, -18.10, -17.67,
        -18.05]
h_dn = [-18.24, -18.18, -18.30, -18.16, -18.27, -18.33, -18.22, -18.36, -18.25, -18.30,
        -18.22, -18.40, -18.33, -18.48, -18.55, -18.40, -18.58, -18.44, -18.38, -18.52,
        -18.27, -18.35, -18.45, -18.30, -18.26, -18.20, -18.32, -18.24, -18.30, -18.27,
        -18.34, -18.28, -18.40, -18.36, -18.45, -18.50, -18.42, -18.56, -18.48, -18.58,
        -18.55, -18.62, -18.52, -18.66, -18.55, -18.60, -18.70, -18.58, -18.64, -18.72,
        -18.66, -18.76, -18.68, -18.85, -18.98, -18.78, -18.70, -18.88, -19.35, -18.75,
        -18.55, -18.46, -15.97, -18.62, -18.85, -18.60, -18.45, -18.35, -17.95, -18.30,
        -18.35, -18.50, -18.68, -18.30, -18.25, -18.22, -18.28, -18.20, -18.26, -18.15,
        -18.18, -18.28, -18.40, -18.20, -18.12, -18.18, -18.15, -18.08, -18.05, -18.12,
        -18.10, -18.18, -18.14, -18.08, -18.05, -18.15, -18.26, -18.12, -18.08, -18.12,
        -18.08, -18.02, -17.95, -18.00, -17.80, -17.88, -18.00, -18.05, -18.08, -18.12,
        -18.12, -18.18, -18.14, -18.20, -18.16, -18.15, -18.22, -18.10, -18.16, -17.80,
        -18.16]

i_up = [-18.25, -18.35, -18.42, -18.30, -18.40, -18.45, -18.36, -18.48, -18.40, -18.45,
        -18.55, -18.45, -18.60, -18.52, -18.66, -18.70, -18.62, -18.52, -18.58, -18.50,
        -18.46, -18.52, -18.40, -18.42, -18.32, -18.28, -18.20, -18.10, -18.18, -18.25,
        -18.40, -18.36, -18.48, -18.45, -18.55, -18.50, -18.62, -18.58, -18.68, -18.76,
        -18.78, -18.85, -19.00, -18.88, -18.95, -18.90, -18.82, -18.96, -19.20, -18.92,
        -18.80, -18.95, -19.05, -18.92, -19.10, -19.50, -19.00, -19.25, -19.10, -18.75,
        -16.06, -18.85, -18.80, -18.90, -19.30, -18.68, -17.70, -18.55, -18.62, -18.55,
        -18.50, -18.45, -18.40, -18.35, -18.30, -18.32, -18.28, -18.22, -18.30, -18.25,
        -18.05, -18.28, -18.22, -18.30, -18.24, -18.20, -18.22, -18.15, -18.20, -18.12,
        -18.18, -18.20, -18.10, -18.20, -18.14, -18.24, -18.18, -18.20, -18.28, -18.20,
        -18.22, -18.10, -17.82, -18.00, -18.22, -18.16, -18.20, -18.15, -18.22, -18.18,
        -18.18, -18.24, -18.20, -18.16, -18.18, -18.14, -18.20, -17.70, -18.18, -18.30,
        -18.15]
i_dn = [-18.23, -18.30, -18.38, -18.28, -18.35, -18.40, -18.32, -18.42, -18.36, -18.40,
        -18.46, -18.40, -18.52, -18.50, -18.58, -18.72, -18.60, -18.48, -18.52, -18.45,
        -18.40, -18.44, -18.35, -18.38, -18.30, -18.25, -18.18, -18.08, -18.14, -18.20,
        -18.36, -18.32, -18.44, -18.40, -18.50, -18.46, -18.56, -18.52, -18.62, -18.70,
        -18.72, -18.80, -18.95, -18.82, -18.90, -18.86, -18.78, -18.92, -19.28, -18.88,
        -18.74, -18.90, -19.00, -18.85, -19.05, -19.10, -18.95, -19.30, -19.15, -18.70,
        -17.40, -18.80, -18.75, -18.85, -18.98, -18.62, -17.63, -18.50, -18.58, -18.50,
        -18.45, -18.40, -18.36, -18.30, -18.25, -18.28, -18.22, -18.18, -18.24, -18.20,
        -17.95, -18.22, -18.18, -18.26, -18.20, -18.15, -18.18, -18.10, -18.14, -18.08,
        -18.12, -18.16, -18.06, -18.15, -18.10, -18.18, -18.12, -18.16, -18.22, -18.14,
        -18.16, -18.05, -17.80, -17.95, -18.15, -18.10, -18.14, -18.08, -18.16, -18.12,
        -18.12, -18.18, -18.15, -18.10, -18.12, -18.08, -18.14, -17.63, -18.12, -18.25,
        -18.10]

spin_labels = ["Spin \u2191", "Spin \u2193"]


def as_curve(series):
    """Return (energy, transmission) arrays from a list of (E, log10 T) pairs."""
    pts = sorted(series)
    e, lg = zip(*pts)
    return np.array(e), 10.0 ** np.array(lg)


curves = {
    "a": (as_curve(a_up), as_curve(a_dn)),
    "b": (as_curve(b_up), as_curve(b_dn)),
    "c": (as_curve(c_up), as_curve(c_dn)),
    "d": (as_curve(d_up), as_curve(d_dn)),
    "e": (as_curve(e_up), as_curve(e_dn)),
    "f": (as_curve(f_up), as_curve(f_dn)),
    "g": (as_curve(g_up), as_curve(g_dn)),
    "h": ((hi_energy, 10.0 ** np.array(h_up)), (hi_energy, 10.0 ** np.array(h_dn))),
    "i": ((hi_energy, 10.0 ** np.array(i_up)), (hi_energy, 10.0 ** np.array(i_dn))),
}

# ---------------------------------------------------------------------------
# Figure layout (pixel boxes: left, top, right, bottom)
# ---------------------------------------------------------------------------
W, H = 1223, 1128
fig = plt.figure(figsize=(W / 100, H / 100), dpi=100)
fig.patch.set_facecolor("white")

TEXT_FONT = ["Lato", "DejaVu Sans"]

layout = {
    "a": dict(box=(69, 4, 400, 333), ylim=(-14.31, -0.36), yt=range(-13, 0, 2),
              vb=(0.07, 0.20, "left"), leg="lower left", tag=(7, 13), ylab=(-0.127, 0.55)),
    "b": dict(box=(65.7, 376, 402.3, 709.3), ylim=(-14.67, -0.37), yt=range(-13, 0, 2),
              vb=(0.075, 0.20, "left"), leg="lower left", tag=(7, 378), ylab=(-0.115, 0.547)),
    "c": dict(box=(64.3, 754.3, 401, 1087.7), ylim=(-14.55, -0.43), yt=range(-13, 0, 2),
              vb=(0.08, 0.19, "left"), leg="lower left", tag=(7, 755), ylab=(-0.108, 0.512)),
    "d": dict(box=(471.7, 9.3, 796.7, 330), ylim=(-12.74, -0.49), yt=range(-11, 0, 2),
              vb=(0.07, 0.19, "left"), leg="lower left", tag=(412, 12), ylab=None),
    "e": dict(box=(471, 376, 808.5, 710), ylim=(-14.6, -0.4), yt=range(-13, 0, 2),
              vb=(0.074, 0.195, "left"), leg="lower left", tag=(413, 373), ylab=None),
    "f": dict(box=(460.7, 754, 796.7, 1086.7), ylim=(-15.71, -0.30), yt=range(-14, -1, 2),
              vb=(0.094, 0.207, "left"), leg="lower left", tag=(417, 753), ylab=None),
    "g": dict(box=(875, 13.3, 1194, 329.3), ylim=(-15.35, -0.48), yt=range(-14, -1, 2),
              vb=(0.11, 0.195, "left"), leg="lower left", tag=(818, 15), ylab=None),
    "h": dict(box=(871.7, 375.7, 1194, 706), ylim=(-19.53, -15.81), yt=range(-19, -15),
              vb=(0.981, 0.763, "right"), leg="upper right", tag=(818, 370), ylab=None),
    "i": dict(box=(870.7, 753.3, 1203.3, 1086.7), ylim=(-19.675, -15.89), yt=range(-19, -15),
              vb=(0.969, 0.768, "right"), leg="upper right", tag=(813, 753), ylab=None),
}

for key, vb in zip(panel_keys, bias_voltages):
    spec = layout[key]
    l, t, r, b = spec["box"]
    ax = fig.add_axes([l / W, 1 - b / H, (r - l) / W, (b - t) / H])

    (eu, tu), (ed, td) = curves[key]
    ax.plot(eu, tu, color="red", lw=1.5, label=spin_labels[0])
    ax.plot(ed, td, color="blue", lw=1.5, label=spin_labels[1])

    # bias window: -Vb/2, 0, +Vb/2
    for xv in (-vb / 2, 0.0, vb / 2):
        ax.axvline(xv, color="0.1", ls="--", lw=0.8, zorder=3)

    ax.set_yscale("log")
    ax.set_xlim(-1.5, 1.5)
    ax.set_ylim(10.0 ** spec["ylim"][0], 10.0 ** spec["ylim"][1])
    ax.set_xticks(np.arange(-1.5, 1.51, 0.5))
    ax.set_yticks([10.0 ** k for k in spec["yt"]])
    if key in ("h", "i"):
        ax.yaxis.set_minor_locator(LogLocator(base=10, subs=np.arange(2, 10)))
        ax.yaxis.set_minor_formatter(NullFormatter())
    else:
        ax.yaxis.set_minor_locator(NullLocator())

    ax.tick_params(axis="both", which="both", direction="in", top=False, right=False)
    ax.tick_params(axis="both", which="major", length=5, width=1.2, labelsize=8)
    ax.tick_params(axis="y", which="minor", length=4, width=1.1)
    ax.tick_params(axis="y", which="both", pad=1.5)
    for sp in ax.spines.values():
        sp.set_linewidth(1.5)

    ax.set_xlabel("Energy (eV)", fontsize=10, labelpad=2)
    if spec["ylab"] is not None:
        ax.set_ylabel("Transmission", family=TEXT_FONT, fontsize=13)
        ax.yaxis.set_label_coords(*spec["ylab"])

    vx, vy, vha = spec["vb"]
    ax.text(vx, vy, r"V$_{\mathregular{b}}$=%.1f V" % vb, transform=ax.transAxes,
            ha=vha, va="center", family=TEXT_FONT, fontsize=13.5)

    ax.legend(loc=spec["leg"], frameon=False, fontsize=8, handlelength=2.0,
              borderaxespad=0.5, labelspacing=0.5)

    tx, ty = spec["tag"]
    fig.text(tx / W, 1 - ty / H, "(%s)" % key, ha="left", va="center",
             family=TEXT_FONT, fontsize=12.5)

fig.savefig("out.png", dpi=100, facecolor="white")
